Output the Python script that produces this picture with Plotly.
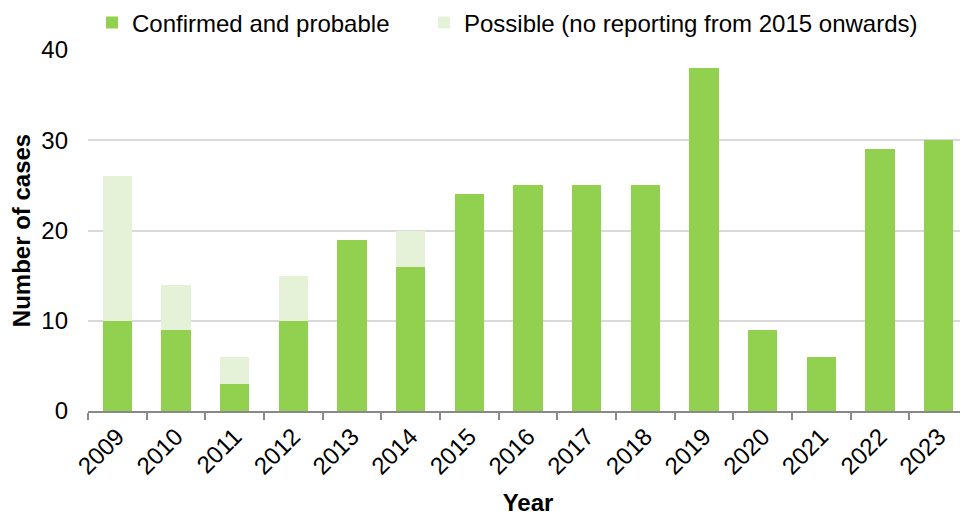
import plotly.graph_objects as go

years = ["2009", "2010", "2011", "2012", "2013", "2014", "2015", "2016",
         "2017", "2018", "2019", "2020", "2021", "2022", "2023"]
confirmed = [10, 9, 3, 10, 19, 16, 24, 25, 25, 25, 38, 9, 6, 29, 30]
possible = [16, 5, 3, 5, 0, 4, None, None, None, None, None, None, None, None, None]

FONT = "Liberation Sans, Arial, sans-serif"
FS = 24

fig = go.Figure()
fig.add_trace(go.Bar(x=years, y=confirmed, name="Confirmed and probable",
                     marker=dict(color="#92D050", line=dict(width=0)), legend="legend"))
fig.add_trace(go.Bar(x=years, y=possible, name="Possible (no reporting from 2015 onwards)",
                     marker=dict(color="#E6F2D8", line=dict(width=0)), legend="legend2"))

leg_common = dict(orientation="h", xref="container", yref="container",
                  xanchor="left", yanchor="middle", y=0.9705,
                  font=dict(size=FS), itemclick=False, bgcolor="rgba(0,0,0,0)")

# page body has an 8px default margin, so the figure is 960x508
fig.update_layout(
    width=960, height=508,
    barmode="stack", bargap=0.5,
    plot_bgcolor="white", paper_bgcolor="white",
    margin=dict(l=80, r=0, t=42, b=105),
    font=dict(family=FONT, size=FS, color="#000000"),
    showlegend=True,
    legend=dict(x=0.0875, **leg_common),
    legend2=dict(x=0.4333, **leg_common),
    xaxis=dict(
        type="category", automargin=False,
        showline=True, linecolor="#898989", linewidth=2,
        ticks="outside", tickson="boundaries", ticklen=7, tickcolor="#898989", tickwidth=2,
        tickangle=-45, tickfont=dict(size=FS),
        showgrid=False,
        title=dict(text="<b>Year</b>", font=dict(size=FS), standoff=19),
    ),
    yaxis=dict(
        range=[0, 40], tickvals=[0, 10, 20, 30, 40], automargin=False,
        showgrid=True, gridcolor="#D9D9D9", gridwidth=2,
        zeroline=False, showline=False, ticks="",
        ticklabelstandoff=19, tickfont=dict(size=FS),
        title=dict(text="<b>Number of cases</b>", font=dict(size=FS), standoff=5),
    ),
)

fig.write_html("out.html")
